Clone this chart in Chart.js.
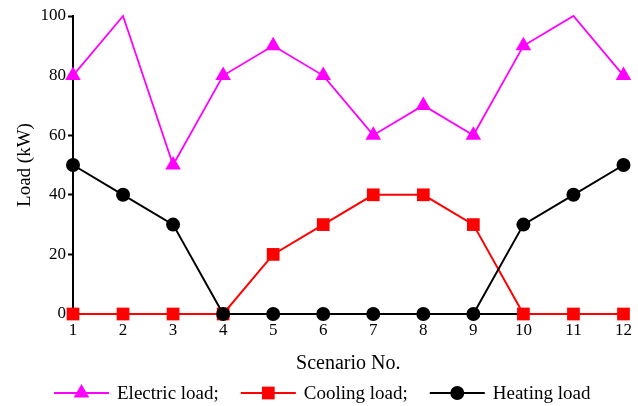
<!DOCTYPE html>
<html>
<head>
<meta charset="utf-8">
<script src="https://cdn.jsdelivr.net/npm/chart.js@4/dist/chart.umd.min.js"></script>
<style>
  html, body { margin: 0; padding: 0; background: #fff; }
  #wrap { width: 638px; height: 406px; }
</style>
</head>
<body>
<div id="wrap"><canvas id="loadChart" width="638" height="406"></canvas></div>
<script>
// Dados do gráfico
const scenarios = [1, 2, 3, 4, 5, 6, 7, 8, 9, 10, 11, 12];
const electricLoad = [80, 100, 50, 80, 90, 80, 60, 70, 60, 90, 100, 80];
const coolingLoad = [0, 0, 0, 0, 20, 30, 40, 40, 30, 0, 0, 0];
const heatingLoad = [50, 40, 30, 0, 0, 0, 0, 0, 0, 30, 40, 50];
const yTicks = [0, 20, 40, 60, 80, 100];

const serif = "'Liberation Serif', 'DejaVu Serif', serif";

function toPoints(values) {
  return scenarios.map((s, i) => ({ x: s, y: values[i] }));
}

// legenda desenhada à mão: linha + marcador + texto
const lineLegend = {
  id: 'lineLegend',
  afterDraw(chart) {
    const ctx = chart.ctx;
    const y = 393;
    let x = 54;
    ctx.save();
    ctx.font = '19px ' + serif;
    ctx.textBaseline = 'middle';
    chart.data.datasets.forEach(ds => {
      ctx.strokeStyle = ds.borderColor;
      ctx.lineWidth = ds.borderWidth;
      ctx.beginPath();
      ctx.moveTo(x, y);
      ctx.lineTo(x + 55, y);
      ctx.stroke();
      ctx.fillStyle = ds.backgroundColor;
      Chart.helpers.drawPoint(ctx, {
        pointStyle: ds.pointStyle, radius: ds.legendRadius, borderWidth: 0
      }, x + 27.5, y);
      ctx.fillStyle = '#000';
      ctx.fillText(ds.label, x + 63, y + 1);
      x += 63 + ctx.measureText(ds.label).width + 22;
    });
    ctx.restore();
  }
};

// pequenos traços para dentro no eixo x
const xInnerTicks = {
  id: 'xInnerTicks',
  beforeDatasetsDraw(chart) {
    const ctx = chart.ctx;
    const xs = chart.scales.x, ys = chart.scales.y;
    const y0 = ys.getPixelForValue(0);
    ctx.save();
    ctx.strokeStyle = '#000';
    ctx.lineWidth = 1.5;
    scenarios.forEach(s => {
      const px = xs.getPixelForValue(s);
      ctx.beginPath();
      ctx.moveTo(px, y0);
      ctx.lineTo(px, y0 - 4);
      ctx.stroke();
    });
    ctx.restore();
  }
};

const ctxLoad = document.getElementById('loadChart').getContext('2d');
const loadChart = new Chart(ctxLoad, {
  type: 'line',
  data: {
    datasets: [{
      label: 'Electric load;',
      data: toPoints(electricLoad),
      borderColor: '#ff00ff',
      backgroundColor: '#ff00ff',
      borderWidth: 1.8,
      pointStyle: 'triangle',
      pointRadius: c => (c.raw && c.raw.y >= 100 ? 0 : 9),
      legendRadius: 9,
      pointBorderWidth: 0,
      clip: false,
      order: 0
    }, {
      label: 'Cooling load;',
      data: toPoints(coolingLoad),
      borderColor: '#ff0000',
      backgroundColor: '#ff0000',
      borderWidth: 2,
      pointStyle: 'rect',
      pointRadius: 9,
      legendRadius: 9,
      pointBorderWidth: 0,
      clip: false,
      order: 2
    }, {
      label: 'Heating load',
      data: toPoints(heatingLoad),
      borderColor: '#000000',
      backgroundColor: '#000000',
      borderWidth: 2,
      pointStyle: 'circle',
      pointRadius: 7,
      legendRadius: 7,
      pointBorderWidth: 0,
      clip: false,
      order: 1
    }]
  },
  options: {
    responsive: false,
    animation: false,
    layout: { padding: { left: 14, right: 14, top: 16, bottom: 30 } },
    plugins: { legend: { display: false }, tooltip: { enabled: false } },
    scales: {
      x: {
        type: 'linear',
        min: 1,
        max: 12,
        afterBuildTicks: s => { s.ticks = scenarios.map(v => ({ value: v })); },
        grid: { drawOnChartArea: false, drawTicks: false },
        border: { color: '#000', width: 2 },
        ticks: { color: '#000', font: { family: serif, size: 17 }, padding: 6, maxRotation: 0 },
        title: { display: true, text: 'Scenario No.', color: '#000', font: { family: serif, size: 20 }, padding: { top: 4, bottom: 0 } },
        afterFit: s => { s.height = 62; }
      },
      y: {
        min: 0,
        max: 100,
        afterBuildTicks: s => { s.ticks = yTicks.map(v => ({ value: v })); },
        grid: { drawOnChartArea: false, drawTicks: true, tickLength: 5, color: '#000', tickWidth: 2 },
        border: { color: '#000', width: 2 },
        ticks: { color: '#000', font: { family: serif, size: 17 }, padding: 2 },
        title: { display: true, text: 'Load (kW)', color: '#000', font: { family: serif, size: 19 }, padding: 0 },
        afterFit: s => { s.width = 59; }
      }
    }
  },
  plugins: [xInnerTicks, lineLegend]
});
</script>
</body>
</html>
